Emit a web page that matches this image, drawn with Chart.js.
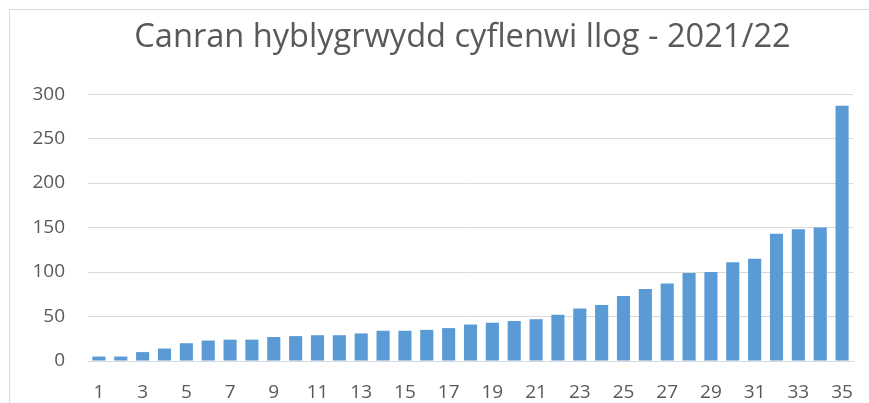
<!DOCTYPE html>
<html>
<head>
<meta charset="utf-8">
<title>Canran hyblygrwydd cyflenwi llog - 2021/22</title>
<script src="https://cdn.jsdelivr.net/npm/chart.js@4/dist/chart.umd.min.js"></script>
<style>
  html, body { margin: 0; padding: 0; background: #fff; overflow: hidden; }
  .chart-wrap { position: relative; width: 869px; height: 403px; }
  .chart-frame {
    position: absolute; left: 9px; top: 9px; right: -10px; bottom: -10px;
    border: 1px solid #d9d9d9; pointer-events: none;
  }
</style>
</head>
<body>
<div class="chart-wrap">
  <canvas id="flex-chart" width="869" height="403"></canvas>
  <div class="chart-frame"></div>
</div>
<script>
const chartTitle = 'Canran hyblygrwydd cyflenwi llog - 2021/22';

const categories = ['1', '2', '3', '4', '5', '6', '7', '8', '9', '10',
  '11', '12', '13', '14', '15', '16', '17', '18', '19', '20',
  '21', '22', '23', '24', '25', '26', '27', '28', '29', '30',
  '31', '32', '33', '34', '35'];

const percentValues = [5, 5, 10, 14, 20, 23, 24, 24, 27, 28,
  29, 29, 31, 34, 34, 35, 37, 41, 43, 45,
  47, 52, 59, 63, 73, 81, 87, 99, 100, 111,
  115, 143, 148, 150, 287];

const yTicks = [0, 50, 100, 150, 200, 250, 300];

const textColor = '#595959';
const gridColor = '#d9d9d9';
const barColor = '#5b9bd5';
const fontFamily = '"Open Sans", "Liberation Sans", sans-serif';

// the title sits a little left of the plot centre
const titleShift = {
  id: 'titleShift',
  afterLayout: function(chart) {
    if (chart.titleBlock) chart.titleBlock.left -= 16;
  }
};

const ctx = document.getElementById('flex-chart');
new Chart(ctx, {
  type: 'bar',
  data: {
    labels: categories,
    datasets: [{
      label: chartTitle,
      data: percentValues,
      backgroundColor: barColor,
      borderWidth: 0,
      barPercentage: 0.6,
      categoryPercentage: 1
    }]
  },
  options: {
    responsive: false,
    animation: false,
    layout: { padding: { left: 0, right: 16, top: 0, bottom: 0 } },
    plugins: {
      legend: { display: false },
      tooltip: { enabled: false },
      title: {
        display: true,
        fullSize: false,
        text: chartTitle,
        color: textColor,
        font: { family: fontFamily, size: 32.6, weight: 'normal' },
        padding: { top: 18, bottom: 37 }
      }
    },
    scales: {
      x: {
        grid: { display: false },
        border: { display: true, color: gridColor, width: 1 },
        ticks: {
          color: textColor,
          font: { family: fontFamily, size: 19 },
          autoSkip: false,
          maxRotation: 0,
          padding: 12,
          callback: function(val, i) {
            return i % 2 === 0 ? this.getLabelForValue(val) : '';
          }
        },
        afterFit: function(scale) { scale.height = 42; }
      },
      y: {
        min: yTicks[0],
        max: yTicks[yTicks.length - 1],
        afterBuildTicks: function(scale) {
          scale.ticks = yTicks.map(v => ({ value: v }));
        },
        grid: { color: gridColor, lineWidth: 1, drawTicks: false, tickLength: 0 },
        border: { display: false },
        ticks: {
          color: textColor,
          font: { family: fontFamily, size: 19 },
          padding: 23
        },
        afterFit: function(scale) { scale.width = 88; }
      }
    }
  },
  plugins: [titleShift]
});
</script>
</body>
</html>
